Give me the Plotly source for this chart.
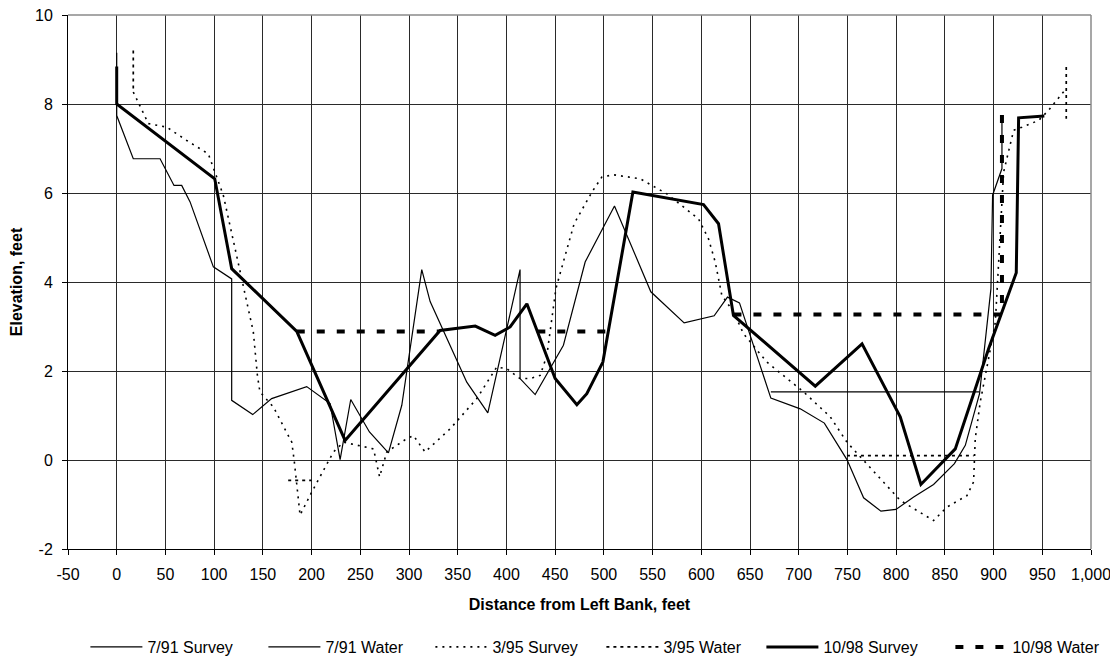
import plotly.graph_objects as go

# ---- data ----
s91_x = [0, 0, 17, 44.5, 58.8, 66.7, 75.3, 99.2, 118, 118, 139.6, 159, 195, 219, 229.3, 240.2, 259.4,
         278.9, 292.6, 313.1, 321.7, 359.3, 380.9, 414, 414, 429.5, 458.5, 480.8, 510.9, 548.2, 582.4,
         613.2, 626.9, 639.2, 671.4, 701.6, 726.3, 749.5, 766.6, 784.4, 799.8, 818, 838.4, 859.8, 871,
         885.6, 897.3, 899, 908.6, 908.6]
s91_y = [9.15, 7.74, 6.77, 6.77, 6.17, 6.17, 5.80, 4.34, 4.07, 1.34, 1.02, 1.38, 1.65, 1.27, 0.01, 1.36, 0.63,
         0.16, 1.23, 4.28, 3.56, 1.75, 1.06, 4.28, 1.83, 1.47, 2.58, 4.45, 5.71, 3.78, 3.08,
         3.24, 3.66, 3.53, 1.39, 1.15, 0.83, 0.01, -0.85, -1.15, -1.11, -0.83, -0.55, -0.08, 0.33,
         1.49, 3.85, 5.95, 6.55, 7.75]

w91_x = [671.4, 885.6]
w91_y = [1.53, 1.53]

s95_x = [17, 22, 32.5, 51.3, 71.9, 94, 100.9, 109.4, 121.5, 130, 140.2, 144.4, 147, 160.8, 179.7, 182.3,
         188.2, 200.2, 222.4, 232.8, 263.6, 269.8, 277.2, 297.7, 304.5, 316.5, 342.2, 369.6, 390.1, 400.4,
         414, 424.3, 434.6, 441.5, 450.8, 459.3, 469.5, 487.7, 498, 509.9, 537.3, 564.7, 581.7, 597.1,
         607.4, 614.3, 621.1, 633, 643.3, 667.3, 705, 732.4, 749.5, 780.3, 804.3, 838.4, 852.1, 872.7,
         879.5, 881.2, 886.3, 894.9, 901.8, 910.3, 920.6, 929.2, 946.2, 956.5, 971.9, 974.6]
s95_y = [8.27, 8.04, 7.56, 7.48, 7.18, 6.88, 6.47, 5.95, 4.75, 3.92, 2.88, 1.90, 1.53, 1.19, 0.40, -0.04,
         -1.24, -0.72, 0.18, 0.40, 0.25, -0.38, 0.18, 0.48, 0.55, 0.18, 0.70, 1.38, 2.09, 2.05,
         1.83, 1.83, 1.90, 2.35, 3.85, 4.52, 5.31, 6.02, 6.36, 6.41, 6.32, 5.98, 5.69, 5.42,
         4.97, 4.45, 3.70, 3.33, 2.84, 2.20, 1.53, 0.97, 0.40, -0.35, -0.91, -1.36, -1.06, -0.80,
         -0.49, 0.48, 1.30, 2.28, 3.10, 6.47, 7.41, 7.48, 7.63, 7.86, 8.27, 8.35]

w95_x = [17, 17, None, 176, 200, None, 749.5, 879.5, None, 974.6, 974.6]
w95_y = [9.2, 8.27, None, -0.46, -0.46, None, 0.10, 0.10, None, 8.83, 7.67]

s98_x = [0, 0, 100.6, 118, 184.8, 234.4, 331.9, 368, 388.4, 403.8, 421, 450, 472.3, 482.5, 499, 529.8,
         602.3, 617.7, 633, 717, 765, 804.2, 825.4, 860.7, 894.9, 923.3, 925.7, 952.1]
s98_y = [8.84, 8.0, 6.32, 4.30, 2.89, 0.44, 2.91, 3.01, 2.80, 2.99, 3.51, 1.83, 1.24, 1.49, 2.20, 6.02,
         5.74, 5.31, 3.25, 1.66, 2.61, 0.97, -0.55, 0.25, 2.50, 4.21, 7.69, 7.73]

w98_x = [184.8, 331, None, 431.7, 504.6, None, 633, 908.6, 908.6]
w98_y = [2.89, 2.89, None, 2.89, 2.89, None, 3.27, 3.27, 7.78]

x_tickvals = list(range(-50, 1001, 50))
x_ticktext = ["-50", "0", "50", "100", "150", "200", "250", "300", "350", "400", "450", "500",
              "550", "600", "650", "700", "750", "800", "850", "900", "950", "1,000"]
y_tickvals = [-2, 0, 2, 4, 6, 8, 10]
y_ticktext = ["-2", "0", "2", "4", "6", "8", "10"]

FONT = "Liberation Sans, Arial, sans-serif"
FS = 16

# legend entry widths (px) to reproduce the uneven legend spacing
LW = [111, 100, 104, 93, 122, 88]

fig = go.Figure()
fig.add_trace(go.Scatter(x=s91_x, y=s91_y, mode="lines", name="7/91 Survey", legendwidth=LW[0],
                         line=dict(color="black", width=1.2)))
fig.add_trace(go.Scatter(x=w91_x, y=w91_y, mode="lines", name="7/91 Water", legendwidth=LW[1],
                         line=dict(color="black", width=1.2)))
fig.add_trace(go.Scatter(x=s95_x, y=s95_y, mode="lines", name="3/95 Survey", legendwidth=LW[2],
                         line=dict(color="black", width=1.6, dash="2px,5px")))
fig.add_trace(go.Scatter(x=w95_x, y=w95_y, mode="lines", name="3/95 Water", legendwidth=LW[3],
                         line=dict(color="black", width=1.7, dash="3px,4px")))
fig.add_trace(go.Scatter(x=s98_x, y=s98_y, mode="lines", name="10/98 Survey", legendwidth=LW[4],
                         line=dict(color="black", width=3)))
fig.add_trace(go.Scatter(x=w98_x, y=w98_y, mode="lines", name="10/98 Water", legendwidth=LW[5],
                         line=dict(color="black", width=4, dash="8px,12px")))

# grey frame on top and right edges of the plot area
fig.add_shape(type="line", xref="paper", yref="paper", x0=0, x1=1, y0=1, y1=1,
              line=dict(color="#8a8a8a", width=1.5), layer="above")
fig.add_shape(type="line", xref="paper", yref="paper", x0=1, x1=1, y0=0, y1=1,
              line=dict(color="#8a8a8a", width=1.5), layer="above")

# page body has an 8px default margin, so margins are reduced to compensate
fig.update_layout(
    width=1118, height=662,
    margin=dict(l=60, r=35, t=7, b=120),
    paper_bgcolor="white", plot_bgcolor="white",
    font=dict(family=FONT, size=FS, color="black"),
    showlegend=True,
    legend=dict(orientation="h", x=0.017, xanchor="left", y=-0.1813, yanchor="middle",
                font=dict(family=FONT, size=FS, color="black"),
                itemwidth=52, entrywidthmode="pixels",
                bgcolor="rgba(0,0,0,0)"),
)
fig.update_xaxes(range=[-50, 1000], tickvals=x_tickvals, ticktext=x_ticktext,
                 showgrid=True, gridcolor="#2a2a2a", gridwidth=1,
                 showline=True, linecolor="black", linewidth=1,
                 ticks="outside", ticklen=5, tickcolor="black", ticklabelstandoff=6,
                 ticklabeloverflow="allow",
                 zeroline=False, automargin=False,
                 title=dict(text="<b>Distance from Left Bank, feet</b>", standoff=16,
                            font=dict(family=FONT, size=FS)))
fig.update_yaxes(range=[-2, 10], tickvals=y_tickvals, ticktext=y_ticktext,
                 showgrid=True, gridcolor="#2a2a2a", gridwidth=1,
                 showline=True, linecolor="black", linewidth=1,
                 ticks="outside", ticklen=5, tickcolor="black", ticklabelstandoff=6,
                 ticklabeloverflow="allow",
                 zeroline=False, automargin=False,
                 title=dict(text="<b>Elevation, feet</b>", standoff=8,
                            font=dict(family=FONT, size=FS)))

fig.write_html("out.html")
